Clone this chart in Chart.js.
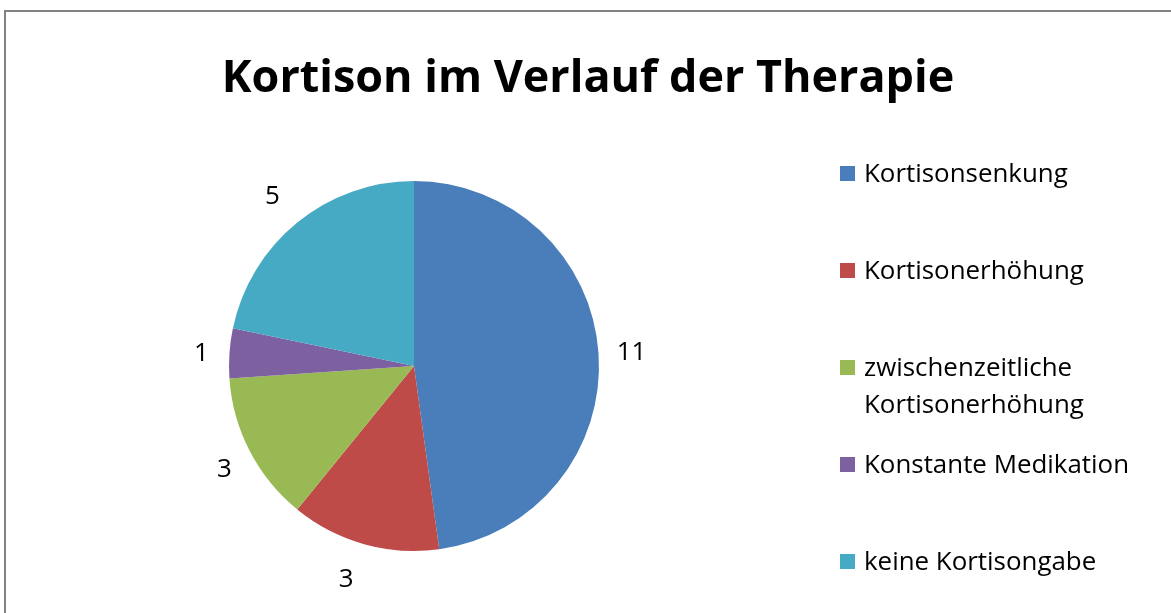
<!DOCTYPE html>
<html>
<head>
<meta charset="utf-8">
<script src="https://cdn.jsdelivr.net/npm/chart.js@4"></script>
<style>
  html, body { margin: 0; padding: 0; background: #fff; }
  #wrap { position: relative; width: 1171px; height: 613px; overflow: hidden; }
  #frame { position: absolute; left: 4px; top: 10px; width: 1200px; height: 700px;
           border-left: 2px solid #828282; border-top: 2px solid #828282; }
  canvas { position: absolute; left: 0; top: 0; }
</style>
</head>
<body>
<div id="wrap">
  <div id="frame"></div>
  <canvas id="pie" width="1171" height="613"></canvas>
</div>
<script>
// chart data
var chartTitle = 'Kortison im Verlauf der Therapie';
var categories = [
  ['Kortisonsenkung'],
  ['Kortisonerhöhung'],
  ['zwischenzeitliche', 'Kortisonerhöhung'],
  ['Konstante Medikation'],
  ['keine Kortisongabe']
];
var counts = [11, 3, 3, 1, 5];
var sliceColors = ['#4A7EBB', '#BE4B48', '#98B954', '#7D60A0', '#46AAC5'];

var FONT = '"Open Sans", "DejaVu Sans", sans-serif';

// pick a font size so that text spans the given width (Calibri is not installed)
function fitFont(ctx, weight, text, width) {
  ctx.font = weight + ' 40px ' + FONT;
  var size = 40 * width / ctx.measureText(text).width;
  return weight + ' ' + size.toFixed(1) + 'px ' + FONT;
}

// title, legend and outside-end value labels, drawn after the pie
var extras = {
  id: 'extras',
  afterDraw: function(chart) {
    var ctx = chart.ctx;
    ctx.save();
    ctx.fillStyle = '#000';

    // title
    ctx.font = fitFont(ctx, 'bold', chartTitle, 733);
    ctx.textAlign = 'center';
    ctx.textBaseline = 'middle';
    ctx.fillText(chartTitle, 588, 79);

    var bodyFont = fitFont(ctx, 'normal', categories[0][0], 204);

    // value labels outside each slice (Excel nudges the small ones a bit)
    ctx.font = bodyFont;
    var meta = chart.getDatasetMeta(0);
    var extraR = [33, 33, 32, 31, 33];
    var nudgeX = [0, -9, 3, 3, -4];
    var nudgeY = [2, 4, 4, 2, 0];
    meta.data.forEach(function(arc, i) {
      var mid = (arc.startAngle + arc.endAngle) / 2;
      var r = arc.outerRadius + extraR[i];
      ctx.fillText(String(counts[i]),
        arc.x + Math.cos(mid) * r + nudgeX[i],
        arc.y + Math.sin(mid) * r + nudgeY[i]);
    });

    // legend
    var legendY = [173, 270, 367, 464, 561];
    ctx.textAlign = 'left';
    categories.forEach(function(lines, i) {
      ctx.fillStyle = sliceColors[i];
      ctx.fillRect(840, legendY[i] - 7, 15, 15);
      ctx.fillStyle = '#000';
      lines.forEach(function(t, j) {
        ctx.fillText(t, 864, legendY[i] + 2 + j * 37);
      });
    });
    ctx.restore();
  }
};

new Chart(document.getElementById('pie'), {
  type: 'pie',
  data: {
    labels: categories.map(function(l) { return l.join(' '); }),
    datasets: [{
      data: counts,
      backgroundColor: sliceColors,
      borderWidth: 0
    }]
  },
  options: {
    responsive: false,
    animation: false,
    layout: { padding: { left: 229, right: 572, top: 181, bottom: 62 } },
    plugins: {
      legend: { display: false },
      title: { display: false },
      tooltip: { enabled: false }
    }
  },
  plugins: [extras]
});
</script>
</body>
</html>
